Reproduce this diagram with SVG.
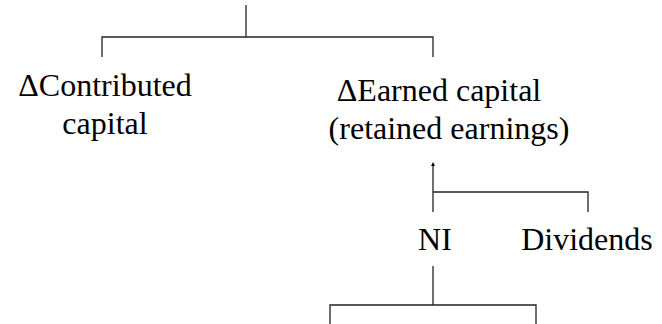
<svg xmlns="http://www.w3.org/2000/svg" width="662" height="324" viewBox="0 0 662 324">
  <style>
    .wire { fill: none; stroke: #222; stroke-width: 1.3; }
    .lbl { font-family: 'Liberation Serif', 'Times New Roman', Tinos, 'Noto Serif', 'DejaVu Serif', FreeSerif, Times, serif; font-size: 32px; fill: #000; text-anchor: middle; }
  </style>
  <defs>
    <marker id="tip" viewBox="0 0 4 4" refX="2" refY="2" markerWidth="3" markerHeight="3" orient="auto">
      <path d="M0,0 L4,2 L0,4 z" fill="#000"/>
    </marker>
  </defs>
  <rect width="662" height="324" fill="#fff"/>

  <g id="connectors">
    <!-- top split -->
    <path class="wire" d="M246,5 V37"/>
    <path class="wire" d="M102,57 V37 H433 V57"/>
    <!-- NI / Dividends join into earned capital -->
    <path class="wire" d="M433,212 V164" marker-end="url(#tip)"/>
    <path class="wire" d="M433,192 H588 V212"/>
    <!-- split below NI -->
    <path class="wire" d="M433,266 V305"/>
    <path class="wire" d="M330,324 V305 H536 V324"/>
  </g>

  <g id="contributed">
    <text class="lbl" x="105" y="96">ΔContributed</text>
    <text class="lbl" x="105" y="134">capital</text>
  </g>

  <g id="earned">
    <text class="lbl" x="439" y="101">ΔEarned capital</text>
    <text class="lbl" x="449" y="139">(retained earnings)</text>
  </g>

  <g id="ni">
    <text class="lbl" x="435" y="250">NI</text>
  </g>

  <g id="dividends">
    <text class="lbl" x="587" y="250">Dividends</text>
  </g>
</svg>
